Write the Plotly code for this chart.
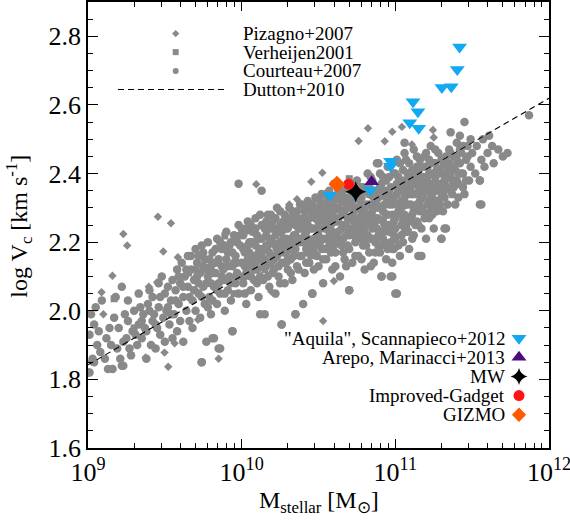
import plotly.graph_objects as go

# ---------------------------------------------------------------------------
# Observational samples: (log10 M_stellar [Msun], log10 Vc [km/s])
# ---------------------------------------------------------------------------
courteau_points = [
    # low-mass end
    (9.00, 1.82), (9.01, 1.93), (9.02, 1.99), (9.03, 1.86), (9.04, 1.96), (9.05, 2.01), (9.06, 1.90), (9.07, 1.94),
    (9.08, 1.88), (9.09, 2.03), (9.11, 1.86), (9.12, 1.92), (9.13, 1.83), (9.14, 1.95), (9.15, 1.90), (9.17, 1.98),
    (9.18, 2.04), (9.19, 1.89), (9.20, 1.95), (9.21, 1.86), (9.22, 1.84), (9.23, 1.91), (9.22, 2.07), (9.24, 1.99),
    (9.25, 1.92), (9.26, 1.97), (9.26, 2.03), (9.27, 1.89), (9.28, 1.87), (9.29, 1.94), (9.30, 2.00), (9.31, 1.93),
    (9.32, 1.90), (9.33, 1.96), (9.33, 2.05), (9.34, 2.01), (9.35, 1.92), (9.36, 1.99), (9.37, 1.95), (9.38, 1.86),
    (9.38, 1.94), (9.39, 2.02), (9.40, 2.06), (9.41, 1.90), (9.42, 1.97), (9.42, 2.04), (9.43, 1.99), (9.44, 1.89),
    (9.45, 1.95), (9.46, 2.01), (9.46, 2.08), (9.47, 1.93), (9.48, 2.10), (9.49, 1.98), (9.50, 2.05), (9.50, 1.91),
    (9.51, 2.00), (9.52, 2.07), (9.53, 1.96), (9.54, 2.03), (9.55, 1.92), (9.55, 2.09), (9.56, 1.99), (9.57, 2.06),
    (9.58, 2.12), (9.58, 1.94), (9.59, 2.02), (9.60, 2.08), (9.60, 1.97),
    (9.35, 1.97), (9.40, 2.00), (9.44, 1.96), (9.47, 2.04), (9.52, 2.01), (9.54, 1.99), (9.57, 2.03), (9.59, 2.10),
    # 10^9.6 - 10^10
    (9.61, 2.14), (9.62, 1.91), (9.62, 2.04), (9.63, 2.10), (9.64, 2.00), (9.65, 2.16), (9.65, 2.07), (9.66, 1.97),
    (9.67, 2.12), (9.68, 2.03), (9.68, 1.95), (9.69, 2.09), (9.70, 2.18), (9.70, 2.00), (9.71, 2.14), (9.72, 2.05),
    (9.73, 2.11), (9.73, 1.98), (9.74, 1.85), (9.74, 2.19), (9.75, 2.07), (9.76, 2.02), (9.76, 2.15), (9.77, 1.91),
    (9.78, 2.10), (9.78, 2.20), (9.79, 2.04), (9.80, 2.13), (9.80, 1.99), (9.81, 2.17), (9.82, 2.07), (9.82, 1.92),
    (9.83, 2.11), (9.84, 2.02), (9.84, 2.21), (9.85, 2.15), (9.86, 2.05), (9.86, 1.89), (9.87, 2.18), (9.88, 2.09),
    (9.88, 2.12), (9.89, 2.00), (9.90, 2.23), (9.90, 2.15), (9.91, 2.06), (9.92, 2.19), (9.92, 2.10), (9.93, 2.03),
    (9.94, 2.13), (9.94, 1.94), (9.95, 2.22), (9.96, 2.08), (9.96, 2.16), (9.97, 2.11), (9.98, 2.05), (9.98, 2.25),
    (9.99, 2.19), (9.98, 2.37),
    (9.62, 2.07), (9.64, 2.12), (9.66, 2.04), (9.67, 2.16), (9.69, 2.06), (9.71, 2.10), (9.72, 2.16), (9.74, 2.04),
    (9.75, 2.13), (9.77, 2.08), (9.79, 2.15), (9.81, 2.03), (9.81, 2.11), (9.83, 2.18), (9.85, 2.08), (9.87, 2.13),
    (9.89, 2.05), (9.89, 2.19), (9.91, 2.17), (9.93, 2.08), (9.95, 2.14), (9.97, 2.20), (9.99, 2.10),
    (9.70, 2.12), (9.72, 2.08), (9.75, 2.17), (9.77, 2.12), (9.78, 2.01), (9.80, 2.08), (9.83, 2.14), (9.84, 2.06),
    (9.86, 2.20), (9.87, 2.10), (9.90, 2.09), (9.91, 2.13), (9.93, 2.20), (9.94, 2.17), (9.97, 2.14), (9.99, 2.22),
    # 10^10 - 10^10.5
    (10.00, 2.14), (10.01, 2.08), (10.01, 2.22), (10.02, 2.17), (10.03, 2.11), (10.03, 2.02), (10.04, 2.26), (10.05, 2.20),
    (10.05, 2.13), (10.06, 2.06), (10.07, 2.23), (10.07, 2.16), (10.08, 2.09), (10.09, 2.19), (10.09, 2.27), (10.10, 2.12),
    (10.11, 2.04), (10.11, 2.21), (10.12, 2.15), (10.13, 2.25), (10.13, 2.35), (10.14, 2.09), (10.14, 2.18), (10.15, 1.99),
    (10.16, 2.22), (10.16, 2.13), (10.17, 2.28), (10.18, 2.17), (10.18, 2.07), (10.19, 2.24), (10.20, 2.11), (10.20, 2.20),
    (10.21, 2.15), (10.22, 2.27), (10.22, 2.05), (10.23, 2.18), (10.24, 2.23), (10.24, 2.10), (10.25, 2.29), (10.26, 1.96),
    (10.26, 2.14), (10.27, 2.21), (10.27, 2.26), (10.28, 2.08), (10.29, 2.17), (10.29, 2.24), (10.30, 2.12), (10.31, 2.30),
    (10.31, 2.20), (10.32, 2.15), (10.33, 2.26), (10.33, 2.09), (10.34, 2.22), (10.35, 1.99), (10.35, 2.18), (10.36, 2.29),
    (10.36, 2.13), (10.37, 2.24), (10.38, 2.20), (10.38, 2.31), (10.39, 2.16), (10.40, 2.02), (10.40, 2.27), (10.41, 2.11),
    (10.41, 2.22), (10.42, 2.18), (10.43, 2.32), (10.43, 2.25), (10.44, 2.14), (10.45, 2.29), (10.45, 2.20), (10.46, 2.05),
    (10.46, 2.24), (10.47, 2.17), (10.48, 2.33), (10.48, 2.27), (10.49, 2.21), (10.50, 2.13),
    (10.00, 2.24), (10.02, 2.05), (10.02, 2.13), (10.04, 2.19), (10.06, 2.10), (10.06, 2.25), (10.08, 2.15), (10.10, 2.22),
    (10.10, 2.08), (10.12, 2.18), (10.12, 2.28), (10.15, 2.15), (10.15, 2.24), (10.17, 2.10), (10.17, 2.19), (10.19, 2.28),
    (10.21, 2.12), (10.21, 2.24), (10.23, 2.16), (10.23, 2.30), (10.25, 2.20), (10.25, 2.08), (10.28, 2.19), (10.28, 2.28),
    (10.30, 2.15), (10.30, 2.24), (10.32, 2.11), (10.32, 2.21), (10.34, 2.28), (10.34, 2.16), (10.37, 2.12), (10.37, 2.21),
    (10.39, 2.26), (10.39, 2.31), (10.42, 2.14), (10.42, 2.23), (10.44, 2.30), (10.44, 2.19), (10.47, 2.12), (10.47, 2.21),
    (10.49, 2.28), (10.49, 2.16),
    (10.01, 2.18), (10.03, 2.24), (10.04, 2.15), (10.06, 2.20), (10.08, 2.12), (10.09, 2.24), (10.11, 2.17), (10.13, 2.21),
    (10.14, 2.13), (10.16, 2.26), (10.18, 2.21), (10.19, 2.14), (10.20, 2.26), (10.22, 2.19), (10.24, 2.13), (10.25, 2.25),
    (10.27, 2.17), (10.29, 2.21), (10.30, 2.27), (10.32, 2.18), (10.33, 2.29), (10.35, 2.25), (10.36, 2.20), (10.38, 2.16),
    (10.40, 2.20), (10.41, 2.29), (10.43, 2.21), (10.44, 2.27), (10.46, 2.18), (10.47, 2.30), (10.48, 2.24),
    (10.02, 2.10), (10.05, 2.17), (10.07, 2.20), (10.09, 2.14), (10.12, 2.10), (10.13, 2.17), (10.16, 2.19), (10.18, 2.24),
    (10.20, 2.16), (10.22, 2.22), (10.24, 2.18), (10.26, 2.23), (10.28, 2.14), (10.30, 2.19), (10.31, 2.25), (10.33, 2.20),
    (10.35, 2.22), (10.37, 2.27), (10.38, 2.24), (10.40, 2.26), (10.42, 2.30), (10.43, 2.17), (10.45, 2.24), (10.46, 2.31),
    (10.48, 2.19),
    # 10^10.5 - 10^11
    (10.50, 2.30), (10.51, 2.24), (10.52, 2.18), (10.52, 2.34), (10.53, 2.08), (10.53, 2.27), (10.54, 2.21), (10.55, 2.31),
    (10.55, 2.15), (10.56, 2.25), (10.57, 2.35), (10.57, 2.19), (10.58, 2.28), (10.59, 2.23), (10.59, 2.12), (10.60, 2.32),
    (10.60, 2.37), (10.61, 2.17), (10.62, 2.26), (10.62, 2.21), (10.63, 2.30), (10.64, 2.10), (10.64, 2.34), (10.65, 2.24),
    (10.65, 2.19), (10.66, 2.28), (10.67, 2.15), (10.67, 2.33), (10.68, 2.22), (10.69, 2.27), (10.69, 2.36), (10.70, 2.06),
    (10.70, 2.18), (10.71, 2.31), (10.72, 2.24), (10.72, 2.14), (10.73, 2.29), (10.73, 2.34), (10.74, 2.20), (10.75, 2.26),
    (10.75, 2.38), (10.76, 2.16), (10.77, 2.32), (10.77, 2.23), (10.78, 2.28), (10.79, 2.19), (10.79, 2.36), (10.80, 2.12),
    (10.80, 2.26), (10.81, 2.31), (10.82, 2.22), (10.82, 2.40), (10.83, 2.17), (10.83, 2.34), (10.84, 2.28), (10.85, 2.24),
    (10.85, 2.38), (10.86, 2.14), (10.86, 2.31), (10.87, 2.20), (10.88, 2.27), (10.88, 2.43), (10.89, 2.35), (10.90, 2.17),
    (10.90, 2.23), (10.91, 2.10), (10.91, 2.30), (10.92, 2.39), (10.92, 2.26), (10.93, 2.20), (10.94, 2.33), (10.94, 2.15),
    (10.95, 2.42), (10.95, 2.28), (10.96, 2.23), (10.97, 2.36), (10.97, 2.10), (10.98, 2.18), (10.98, 2.31), (10.99, 2.40),
    (10.99, 2.26),
    (10.51, 2.20), (10.51, 2.32), (10.53, 2.15), (10.54, 2.26), (10.56, 2.21), (10.56, 2.33), (10.58, 2.17), (10.58, 2.25),
    (10.60, 2.29), (10.61, 2.13), (10.61, 2.22), (10.63, 2.27), (10.63, 2.35), (10.66, 2.17), (10.66, 2.25), (10.68, 2.31),
    (10.68, 2.13), (10.70, 2.22), (10.71, 2.27), (10.71, 2.35), (10.74, 2.16), (10.74, 2.24), (10.76, 2.30), (10.76, 2.34),
    (10.78, 2.21), (10.78, 2.15), (10.80, 2.30), (10.81, 2.35), (10.81, 2.19), (10.83, 2.25), (10.84, 2.39), (10.84, 2.13),
    (10.86, 2.27), (10.87, 2.33), (10.87, 2.17), (10.89, 2.22), (10.89, 2.30), (10.91, 2.37), (10.91, 2.19), (10.93, 2.25),
    (10.93, 2.31), (10.95, 2.18), (10.96, 2.35), (10.96, 2.39), (10.98, 2.25), (10.98, 2.14),
    (10.50, 2.26), (10.52, 2.29), (10.54, 2.24), (10.55, 2.34), (10.57, 2.27), (10.58, 2.21), (10.59, 2.31), (10.61, 2.26),
    (10.62, 2.33), (10.64, 2.20), (10.65, 2.29), (10.66, 2.35), (10.68, 2.25), (10.69, 2.19), (10.71, 2.23), (10.72, 2.32),
    (10.73, 2.26), (10.75, 2.21), (10.76, 2.27), (10.78, 2.33), (10.79, 2.25), (10.80, 2.21), (10.82, 2.27), (10.83, 2.31),
    (10.85, 2.21), (10.86, 2.35), (10.88, 2.24), (10.89, 2.33), (10.90, 2.40), (10.92, 2.21), (10.93, 2.35), (10.94, 2.28),
    (10.96, 2.31), (10.97, 2.20), (10.99, 2.33), (10.99, 2.22),
    (10.50, 2.22), (10.51, 2.28), (10.53, 2.31), (10.54, 2.18), (10.56, 2.29), (10.57, 2.23), (10.59, 2.27), (10.60, 2.19),
    (10.62, 2.30), (10.63, 2.23), (10.65, 2.32), (10.66, 2.21), (10.67, 2.29), (10.69, 2.24), (10.70, 2.33), (10.72, 2.27),
    (10.73, 2.22), (10.75, 2.30), (10.76, 2.24), (10.77, 2.36), (10.79, 2.29), (10.80, 2.23), (10.81, 2.28), (10.83, 2.36),
    (10.84, 2.21), (10.85, 2.29), (10.87, 2.26), (10.88, 2.31), (10.89, 2.19), (10.90, 2.36), (10.92, 2.29), (10.93, 2.23),
    (10.94, 2.38), (10.95, 2.25), (10.97, 2.33), (10.98, 2.28),
    # 10^11 - 10^11.5
    (11.00, 2.05), (11.00, 2.21), (11.01, 2.34), (11.01, 2.44), (11.02, 2.29), (11.03, 2.16), (11.03, 2.38), (11.04, 2.25),
    (11.04, 2.32), (11.05, 2.41), (11.05, 2.20), (11.06, 2.46), (11.06, 2.28), (11.07, 2.36), (11.08, 2.23), (11.08, 2.31),
    (11.09, 2.43), (11.09, 2.18), (11.10, 2.39), (11.10, 2.27), (11.11, 2.34), (11.12, 2.22), (11.12, 2.47), (11.13, 2.30),
    (11.13, 2.41), (11.14, 2.26), (11.15, 2.36), (11.15, 2.16), (11.16, 2.44), (11.16, 2.32), (11.17, 2.24), (11.18, 2.39),
    (11.18, 2.29), (11.19, 2.35), (11.20, 2.46), (11.20, 2.21), (11.21, 2.42), (11.21, 2.31), (11.22, 2.27), (11.23, 2.37),
    (11.23, 2.48), (11.24, 2.33), (11.25, 2.24), (11.25, 2.43), (11.26, 2.39), (11.27, 2.29), (11.27, 2.35), (11.28, 2.46),
    (11.29, 2.41), (11.29, 2.31), (11.30, 2.21), (11.30, 2.37), (11.31, 2.44), (11.32, 2.33), (11.33, 2.40), (11.33, 2.24),
    (11.34, 2.36), (11.35, 2.47), (11.35, 2.43), (11.36, 2.52), (11.36, 2.39), (11.37, 2.34), (11.38, 2.45), (11.39, 2.41),
    (11.39, 2.31), (11.40, 2.49), (11.41, 2.37), (11.42, 2.43), (11.42, 2.51), (11.43, 2.46), (11.44, 2.40), (11.45, 2.55),
    (11.45, 2.34), (11.46, 2.44), (11.47, 2.48), (11.48, 2.38), (11.49, 2.42), (11.49, 2.50),
    (11.00, 2.27), (11.00, 2.40), (11.02, 2.19), (11.02, 2.35), (11.03, 2.43), (11.04, 2.28), (11.06, 2.23), (11.06, 2.38),
    (11.07, 2.31), (11.07, 2.44), (11.09, 2.26), (11.09, 2.35), (11.11, 2.21), (11.11, 2.41), (11.12, 2.29), (11.14, 2.38),
    (11.14, 2.45), (11.15, 2.25), (11.16, 2.34), (11.17, 2.42), (11.19, 2.27), (11.19, 2.45), (11.20, 2.37), (11.22, 2.32),
    (11.22, 2.44), (11.24, 2.28), (11.24, 2.40), (11.26, 2.35), (11.26, 2.47), (11.28, 2.31), (11.28, 2.40), (11.30, 2.44),
    (11.31, 2.29), (11.32, 2.38), (11.34, 2.42), (11.34, 2.31), (11.36, 2.46), (11.37, 2.41), (11.38, 2.36), (11.40, 2.44),
    (11.41, 2.33), (11.43, 2.40), (11.44, 2.48), (11.46, 2.38), (11.47, 2.45),
    (11.01, 2.31), (11.02, 2.39), (11.04, 2.36), (11.05, 2.26), (11.06, 2.33), (11.08, 2.40), (11.08, 2.27), (11.10, 2.31),
    (11.11, 2.37), (11.13, 2.25), (11.13, 2.34), (11.14, 2.42), (11.16, 2.29), (11.17, 2.37), (11.18, 2.33), (11.20, 2.28),
    (11.21, 2.39), (11.23, 2.34), (11.23, 2.29), (11.25, 2.37), (11.26, 2.43), (11.27, 2.32), (11.29, 2.36), (11.30, 2.40),
    (11.31, 2.34), (11.33, 2.45), (11.35, 2.39), (11.36, 2.35), (11.38, 2.42), (11.40, 2.38), (11.42, 2.47), (11.44, 2.36),
    (11.00, 2.24), (11.01, 2.37), (11.03, 2.30), (11.04, 2.22), (11.05, 2.35), (11.07, 2.25), (11.08, 2.38), (11.10, 2.34),
    (11.11, 2.28), (11.12, 2.39), (11.14, 2.31), (11.15, 2.41), (11.17, 2.30), (11.18, 2.36), (11.19, 2.42), (11.21, 2.35),
    (11.22, 2.40), (11.24, 2.36), (11.25, 2.31), (11.27, 2.41), (11.28, 2.37), (11.30, 2.33), (11.32, 2.43), (11.33, 2.36),
    (11.35, 2.41), (11.37, 2.38), (11.39, 2.45), (11.41, 2.40),
    # high-mass end
    (11.50, 2.46), (11.52, 2.40), (11.53, 2.48), (11.55, 2.38), (11.55, 2.31), (11.56, 2.44), (11.57, 2.50), (11.58, 2.42),
    (11.60, 2.46), (11.61, 2.51), (11.63, 2.48), (11.64, 2.43), (11.67, 2.47), (11.70, 2.45), (11.73, 2.46), (11.87, 2.57),
    # scattered galaxies off the main relation
    (10.89, 2.43), (11.06, 2.49), (11.17, 2.16), (10.99, 2.18), (11.32, 2.24), (11.30, 2.21), (11.56, 2.31), (11.55, 2.38),
    (9.74, 1.85), (9.85, 1.89), (9.81, 1.92), (9.94, 1.94), (10.12, 1.99), (10.26, 1.96), (10.35, 1.99), (10.46, 2.05),
    (10.70, 2.06), (10.91, 2.10), (10.98, 2.10), (11.01, 2.05), (9.16, 1.83), (9.23, 1.84), (9.04, 1.85), (9.01, 1.82),
]

pizagno_points = [
    (9.23, 2.224), (9.255, 2.19), (9.455, 2.274), (9.54, 2.255), (9.49, 2.173), (9.585, 2.156),
    (10.095, 2.369), (10.04, 2.233), (9.883, 2.187), (10.36, 2.325), (10.453, 2.376), (10.525, 2.402),
    (10.31, 2.31), (10.761, 2.495), (10.822, 2.532), (10.931, 2.494), (10.98, 2.522), (11.043, 2.536),
    (11.108, 2.485), (11.245, 2.527), (11.25, 2.505), (11.085, 2.236), (10.937, 2.19), (9.159, 2.102),
    (9.088, 2.054), (9.10, 1.99), (9.396, 2.07), (9.45, 2.083), (9.498, 1.878), (9.522, 1.837),
    (9.85, 1.86), (10.53, 1.97), (10.60, 2.087), (9.716, 1.974), (9.375, 1.864), (10.193, 2.056),
    (9.564, 1.905), (9.022, 1.852),
    (9.70, 2.06), (9.95, 2.10), (10.10, 2.16), (10.25, 2.20), (10.40, 2.24), (10.55, 2.27),
    (10.70, 2.30), (10.85, 2.33), (11.00, 2.36), (11.15, 2.40), (10.62, 2.20), (10.90, 2.27),
    (10.30, 2.14), (10.05, 2.06), (9.80, 2.03), (11.30, 2.42), (11.05, 2.30), (10.75, 2.21),
]

verheijen_points = [
    (9.17, 2.035), (9.655, 2.11), (9.89, 2.218), (9.30, 1.95), (9.95, 2.05), (10.15, 2.12),
    (10.35, 2.21), (10.60, 2.30), (10.70, 2.385), (10.90, 2.34), (11.10, 2.35), (10.45, 2.16),
]

# Dutton+2010 relation: log V = a + b (log M - m0)
dutton_logm = [9.0, 12.0]
dutton_a, dutton_b, dutton_m0 = 2.179, 0.259, 10.3

# Simulated Milky-Way-like galaxies
aquila_logm = [11.418, 11.403, 11.303, 11.364, 11.115, 11.147, 11.094, 11.152, 10.969, 10.969, 10.573, 10.736, 10.837]
aquila_logv = [2.769, 2.703, 2.651, 2.653, 2.609, 2.580, 2.548, 2.532, 2.436, 2.421, 2.337, 2.342, 2.352]
arepo_logm, arepo_logv = [10.846], [2.376]
mw_logm, mw_logv = [10.742], [2.347]
gadget_logm, gadget_logv = [10.696], [2.369]
gizmo_logm, gizmo_logv = [10.620], [2.369]

x_tick_exp = [9, 10, 11, 12]

GREY = "#898989"
CYAN = "#12A9F2"
PURPLE = "#4B0C80"
RED = "#FF1414"
ORANGE = "#FF5A00"
FONT = "Liberation Serif"


def lin(e):
    return 10.0 ** e


fig = go.Figure()


def add_sample(points, symbol, size):
    fig.add_trace(go.Scatter(
        x=[lin(p[0]) for p in points], y=[p[1] for p in points], mode="markers",
        marker=dict(symbol=symbol, size=size, color=GREY, line=dict(width=0)),
        hoverinfo="skip"))


add_sample(courteau_points, "circle", 8.5)
add_sample(pizagno_points, "diamond", 6.5)
add_sample(verheijen_points, "square", 7)

fig.add_trace(go.Scatter(
    x=[lin(m) for m in dutton_logm],
    y=[dutton_a + dutton_b * (m - dutton_m0) for m in dutton_logm],
    mode="lines", line=dict(color="black", width=1.1, dash="6px,4px"), hoverinfo="skip"))


def add_sim(lm, lv, symbol, size, color):
    fig.add_trace(go.Scatter(
        x=[lin(m) for m in lm], y=lv, mode="markers",
        marker=dict(symbol=symbol, size=size, color=color, line=dict(width=0)),
        hoverinfo="skip"))


add_sim(aquila_logm, aquila_logv, "triangle-down", 13, CYAN)
add_sim(arepo_logm, arepo_logv, "triangle-up", 13, PURPLE)
add_sim(mw_logm, mw_logv, "star-diamond", 15, "black")
add_sim(gadget_logm, gadget_logv, "circle", 11, RED)
add_sim(gizmo_logm, gizmo_logv, "diamond", 13, ORANGE)

# ---------------------------------------------------------------------------
# Legend blocks, drawn in pixel space on hidden overlay axes
# ---------------------------------------------------------------------------
PL, PR, PT, PB = 88.3, 549.3, 1.7, 448.3


def glyph(px, py, symbol, size, color):
    fig.add_trace(go.Scatter(
        x=[px], y=[py], xaxis="x2", yaxis="y2", mode="markers",
        marker=dict(symbol=symbol, size=size, color=color, line=dict(width=0)),
        hoverinfo="skip"))


def label(px, py, text, anchor):
    fig.add_annotation(
        x=(px - PL) / (PR - PL), y=(PB - py) / (PB - PT), xref="paper", yref="paper",
        text=text, showarrow=False, xanchor=anchor, yanchor="middle",
        font=dict(family=FONT, size=19, color="black"))


top_rows = [33.3, 51.9, 70.7, 89.3]
glyph(176, top_rows[0], "diamond", 5.5, GREY)
glyph(176, top_rows[1], "square", 6, GREY)
glyph(176, top_rows[2], "circle", 6, GREY)
fig.add_trace(go.Scatter(
    x=[118.3, 228.3], y=[top_rows[3], top_rows[3]], xaxis="x2", yaxis="y2", mode="lines",
    line=dict(color="black", width=1.1, dash="6px,4px"), hoverinfo="skip"))
for row, txt in zip(top_rows, ["Pizagno+2007", "Verheijen2001", "Courteau+2007", "Dutton+2010"]):
    label(241.5, row, txt, "left")

bot_rows = [338.3, 357.4, 376.7, 395.8, 415.0]
glyph(519.3, bot_rows[0], "triangle-down", 13, CYAN)
glyph(519.3, bot_rows[1], "triangle-up", 13, PURPLE)
glyph(519.3, bot_rows[2], "star-diamond", 12, "black")
glyph(519.3, bot_rows[3], "circle", 11, RED)
glyph(519.3, bot_rows[4], "diamond", 11, ORANGE)
for row, txt in zip(bot_rows, ['"Aquila", Scannapieco+2012', "Arepo, Marinacci+2013", "MW",
                               "Improved-Gadget", "GIZMO"]):
    label(507.5, row, txt, "right")

# Axis titles
fig.add_annotation(x=0.5, y=(PB - 502) / (PB - PT), xref="paper", yref="paper",
                   text="M<sub>stellar</sub> [M<sub>⊙</sub>]", showarrow=False,
                   xanchor="center", yanchor="middle",
                   font=dict(family=FONT, size=24, color="black"))
fig.add_annotation(x=(19 - PL) / (PR - PL), y=(PB - 226) / (PB - PT), xref="paper", yref="paper",
                   text="log V<sub>c</sub> [km s<sup>-1</sup>]", showarrow=False, textangle=-90,
                   xanchor="center", yanchor="middle",
                   font=dict(family=FONT, size=24, color="black"))

axis_common = dict(showgrid=False, zeroline=False, showline=True, linecolor="black", linewidth=1.5,
                   mirror="allticks", ticks="inside", tickcolor="black", tickwidth=1,
                   automargin=False, ticklabeloverflow="allow",
                   tickfont=dict(family=FONT, size=26, color="black"))

fig.update_layout(
    width=570, height=521,
    margin=dict(l=88, r=21, t=2, b=73),
    paper_bgcolor="white", plot_bgcolor="white",
    showlegend=False,
    xaxis=dict(type="log", range=[9, 12],
               tickvals=[lin(e) for e in x_tick_exp],
               ticktext=[f"10<sup>{e}</sup>" for e in x_tick_exp],
               ticklen=9,
               minor=dict(ticks="inside", ticklen=5, dtick="D1", tickcolor="black", tickwidth=1),
               **axis_common),
    yaxis=dict(range=[1.6, 2.9], tick0=1.6, dtick=0.2, tickformat=".1f", ticklen=10,
               minor=dict(ticks="inside", ticklen=5, dtick=0.05, tickcolor="black", tickwidth=1),
               **axis_common),
    xaxis2=dict(overlaying="x", range=[PL, PR], visible=False, fixedrange=True),
    yaxis2=dict(overlaying="y", range=[PB, PT], visible=False, fixedrange=True),
)

fig.write_html("out.html")
